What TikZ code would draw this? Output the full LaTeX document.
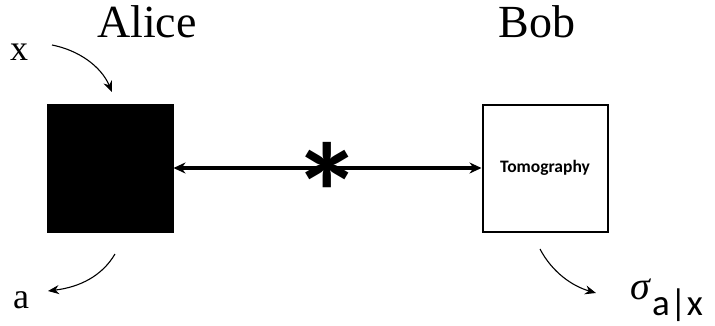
\documentclass[tikz,border=0pt]{standalone}
\usepackage{fontspec}
\setmainfont{Liberation Serif}
\newfontfamily\calibri{Carlito}
\usepackage{tikz}
\usetikzlibrary{arrows.meta,positioning,calc}

\begin{document}
\begin{tikzpicture}[x=1pt, y=-1pt, >={Stealth[length=11pt,width=9pt]}, semithick]
    \tikzstyle{party}=[font=\fontsize{46}{46}\selectfont, anchor=base]
    \tikzstyle{var}=[font=\fontsize{36}{36}\selectfont, anchor=base]
    \tikzstyle{device}=[draw=black, line width=2pt, minimum width=125pt, minimum height=127pt, inner sep=0pt]
    \tikzstyle{io}=[->, line width=1.1pt]
    \useasboundingbox (0,0) rectangle (715,325);
    \node[party]            (alice) at (147,37)  {Alice};
    \node[party]            (bob)   at (537,37)  {Bob};
    \node[device,fill=black] (box)  at (110,168) {};
    \node[device]           (tomo)  at (545,168) {\calibri\bfseries\fontsize{17.5}{17.5}\selectfont Tomography};
    \node[var]              (x)     at (19,60)   {x};
    \node[var]              (a)     at (21,308)  {a};
    \node[anchor=base west, inner sep=0pt] (sigma) at (630,299)
        {\fontsize{40}{40}\selectfont\itshape σ\upshape\hspace{2pt}\raisebox{-16pt}{\calibri\fontsize{37}{37}\selectfont a|x}};
    % ends of the curved arrows
    \coordinate (xfrom) at (52,45);
    \coordinate (xin)   at (112,92);
    \coordinate (aout)  at (115,254);
    \coordinate (ato)   at (48,291);
    \coordinate (sout)  at (540,249);
    \coordinate (sto)   at (596,293);
    \draw[io] (xfrom) .. controls (78,50) and (101,66) .. (xin);
    \draw[io] (aout) .. controls (102,276) and (80,287) .. (ato);
    \draw[io] (sout) .. controls (552,272) and (572,286) .. (sto);
    % shared resource between the two parties
    \draw[<->, line width=3.2pt, >={Stealth[length=12pt,width=11pt]}] (box.east) -- (tomo.west)
        node[midway, yshift=-24pt] {\calibri\bfseries\fontsize{140}{140}\selectfont *};
\end{tikzpicture}
\end{document}
